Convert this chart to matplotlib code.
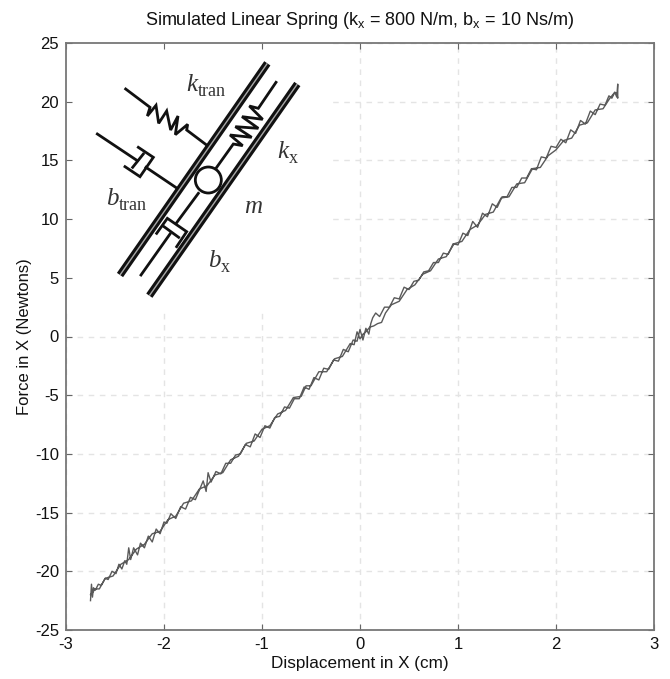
import matplotlib
matplotlib.use("Agg")
import matplotlib.pyplot as plt
from matplotlib.patches import Circle

plt.rcParams['font.family'] = ['Liberation Sans', 'DejaVu Sans']
plt.rcParams['mathtext.fontset'] = 'custom'
plt.rcParams['mathtext.rm'] = 'Liberation Sans'
plt.rcParams['axes.unicode_minus'] = False

# trace, going up
up_x = [-2.75, -2.74, -2.73, -2.72, -2.70, -2.67, -2.64, -2.60, -2.57, -2.53,
        -2.49, -2.46, -2.43, -2.40, -2.38, -2.36, -2.34, -2.31, -2.27, -2.24,
        -2.20, -2.16, -2.12, -2.08, -2.04, -2.00, -1.97, -1.93, -1.88, -1.83,
        -1.78, -1.73, -1.68, -1.63, -1.60, -1.57, -1.55, -1.52, -1.47, -1.42,
        -1.37, -1.32, -1.27, -1.22, -1.17, -1.12, -1.07, -1.02, -0.97, -0.92,
        -0.87, -0.82, -0.77, -0.72, -0.67, -0.62, -0.57, -0.52, -0.47, -0.42,
        -0.37, -0.32, -0.27, -0.22, -0.17, -0.12, -0.07, -0.03, 0.00, 0.03,
        0.06, 0.09, 0.11, 0.13, 0.16, 0.20, 0.25, 0.30, 0.35, 0.40,
        0.45, 0.50, 0.55, 0.60, 0.65, 0.70, 0.75, 0.80, 0.85, 0.90,
        0.95, 1.00, 1.05, 1.10, 1.15, 1.20, 1.25, 1.30, 1.35, 1.40,
        1.45, 1.50, 1.55, 1.60, 1.65, 1.70, 1.75, 1.80, 1.85, 1.90,
        1.95, 2.00, 2.05, 2.10, 2.15, 2.20, 2.25, 2.30, 2.35, 2.40,
        2.45, 2.50, 2.54, 2.57, 2.60, 2.62, 2.63, 2.63, 2.62, 2.60]
up_y = [-22.5, -21.1, -22.2, -21.4, -21.6, -21.1, -21.2, -20.6, -20.7, -20.0,
        -20.2, -19.4, -19.8, -19.1, -19.4, -18.0, -19.0, -18.0, -18.6, -17.6,
        -18.0, -17.0, -17.5, -16.4, -16.8, -15.8, -15.9, -15.1, -15.5, -14.5,
        -14.7, -13.7, -13.9, -12.9, -12.3, -13.2, -11.6, -12.4, -11.5, -11.7,
        -10.8, -10.8, -10.1, -10.0, -9.2, -9.4, -8.3, -8.6, -7.6, -7.8,
        -6.9, -6.8, -6.0, -6.1, -5.3, -5.3, -4.3, -4.5, -3.5, -3.7,
        -2.7, -2.8, -2.0, -2.1, -1.1, -1.3, -0.3, -0.4, 0.6, -0.3,
        0.7, 0.2, 1.1, 1.6, 2.0, 1.7, 2.5, 2.5, 3.3, 3.2,
        4.2, 4.0, 4.7, 4.8, 5.5, 5.6, 6.3, 6.3, 7.1, 7.0,
        7.9, 7.8, 8.8, 8.6, 9.8, 9.3, 10.5, 10.2, 11.3, 11.0,
        11.9, 11.9, 12.7, 12.7, 13.5, 13.5, 14.3, 14.2, 15.3, 15.2,
        16.2, 16.1, 16.8, 16.5, 17.6, 17.3, 18.4, 18.1, 19.2, 18.9,
        19.8, 19.7, 20.5, 20.3, 20.8, 20.7, 20.3, 21.5, 20.4, 20.8]

# and coming back down
down_x = [2.55, 2.48, 2.40, 2.32, 2.24, 2.16, 2.08, 2.00, 1.92, 1.84,
          1.76, 1.68, 1.60, 1.52, 1.44, 1.36, 1.28, 1.20, 1.12, 1.04,
          0.96, 0.88, 0.80, 0.72, 0.64, 0.56, 0.48, 0.40, 0.32, 0.26,
          0.22, 0.18, 0.14, 0.10, 0.06, 0.03, 0.00, -0.03, -0.06, -0.10,
          -0.18, -0.26, -0.34, -0.42, -0.50, -0.55, -0.60, -0.68, -0.76, -0.84,
          -0.92, -1.00, -1.08, -1.16, -1.24, -1.32, -1.40, -1.48, -1.56, -1.64,
          -1.72, -1.80, -1.88, -1.96, -2.04, -2.12, -2.20, -2.28, -2.36, -2.44,
          -2.52, -2.60, -2.66, -2.70, -2.73, -2.75]
down_y = [20.3, 19.4, 19.3, 18.2, 18.0, 16.9, 16.7, 15.9, 15.4, 14.4,
          14.3, 13.1, 13.0, 11.9, 11.8, 10.6, 10.4, 9.5, 9.1, 8.1,
          7.9, 6.8, 6.6, 5.6, 5.3, 4.4, 4.0, 3.0, 2.7, 2.0,
          1.2, 1.1, 0.9, 0.8, 0.4, 0.2, -0.2, 0.4, -0.7, -0.6,
          -1.7, -1.9, -3.0, -3.0, -4.2, -4.2, -5.1, -5.2, -6.3, -6.6,
          -7.6, -7.9, -8.9, -9.1, -10.2, -10.5, -11.6, -11.8, -12.7, -13.0,
          -14.0, -14.2, -15.3, -15.6, -16.6, -16.8, -17.7, -18.1, -19.0, -19.4,
          -20.4, -20.6, -21.5, -21.5, -21.8, -22.0]

x_ticks = [-3, -2, -1, 0, 1, 2, 3]
y_ticks = [-25, -20, -15, -10, -5, 0, 5, 10, 15, 20, 25]

# schematic outlines
walls = [[(180, 735), (622, 100)], [(268, 797), (712, 162)]]
thin_lines = [
    [(197, 177), (270, 232), (262, 258), (288, 226), (296, 280), (320, 243),
     (332, 300), (354, 258), (346, 314), (383, 283), (380, 300), (437, 343)],
    [(470, 412), (520, 342), (548, 347), (510, 315), (575, 322), (526, 290),
     (595, 295), (546, 260), (608, 268), (568, 228), (595, 235), (648, 157)],
    [(112, 312), (232, 392)],
    [(218, 412), (250, 372)],
    [(235, 352), (280, 382), (240, 440), (195, 410)],
    [(258, 412), (347, 472)],
    [(415, 490), (350, 578)],
    [(290, 610), (322, 565), (380, 605), (350, 650)],
    [(243, 735), (330, 612)],
    [(312, 590), (356, 622)],
]
mass = (445, 450, 39)
labels = [("k", "tran", 378, 165), ("k", "x", 653, 366), ("b", "tran", 138, 507),
          ("b", "x", 443, 692), ("m", "", 552, 530)]


def draw_plot(fig):
    # grid and white box behind the schematic live on the bottom axes
    ax = fig.add_axes([66 / 670, 1 - 630 / 679, 588 / 670, 587 / 679])
    ax.set_xlim(-3, 3)
    ax.set_ylim(-25, 25)
    ax.set_xticks(x_ticks)
    ax.set_yticks(y_ticks)
    ax.tick_params(length=0, labelbottom=False, labelleft=False)
    ax.grid(True, color="#e4e4e4", linestyle=(0, (4, 4)), linewidth=1.0)
    ax.fill_between([-3, -0.31], 2.1, 25, color="white", zorder=2)
    ax.plot(up_x + down_x, up_y + down_y, color="#5a5a5a", linewidth=1.0, zorder=3)
    for s in ax.spines.values():
        s.set_visible(False)

    top = fig.add_axes(ax.get_position(), facecolor="none")
    top.set_xlim(-3, 3)
    top.set_ylim(-25, 25)
    top.set_xticks(x_ticks)
    top.set_yticks(y_ticks)
    top.tick_params(direction="in", top=True, right=True, length=4, width=0.8,
                    color="#666666", labelsize=12, labelcolor="#111111", pad=5)
    for s in top.spines.values():
        s.set_color("#777777")
        s.set_linewidth(1.3)
    top.set_xlabel("Displacement in X (cm)", fontsize=12.3, color="#111111", labelpad=3)
    top.set_ylabel("Force in X (Newtons)", fontsize=12, color="#111111", labelpad=2)
    top.set_title(r"Simulated Linear Spring (k$_{\mathrm{x}}$ = 800 N/m, b$_{\mathrm{x}}$ = 10 Ns/m)",
                  fontsize=13, color="#111111", pad=13)


def draw_schematic(fig):
    # this axes is just the 280x290 crop of the figure, units are 1/3 pixel
    sk = fig.add_axes([60 / 670, 1 - 320 / 679, 280 / 670, 290 / 679], facecolor="none")
    sk.set_xlim(0, 840)
    sk.set_ylim(870, 0)
    sk.axis("off")
    for w in walls:
        xs, ys = zip(*w)
        sk.plot(xs, ys, color="#111111", linewidth=5.4, solid_capstyle="butt")
        sk.plot(xs, ys, color="#a8a8a8", linewidth=1.0, solid_capstyle="butt")
    for seg in thin_lines:
        xs, ys = zip(*seg)
        sk.plot(xs, ys, color="#111111", linewidth=2.0, solid_joinstyle="miter")
    sk.add_patch(Circle(mass[:2], mass[2], facecolor="white", edgecolor="#111111",
                        linewidth=2.0, zorder=5))
    for name, sub, x, y in labels:
        t = sk.text(x, y, name, family="Liberation Serif", style="italic", fontsize=18,
                    color="#333333", va="center", ha="left")
        if sub:
            fig.canvas.draw()
            box = t.get_window_extent().transformed(sk.transData.inverted())
            sk.text(box.x1 + 1, y + 20, sub, family="Liberation Serif", fontsize=13,
                    color="#333333", va="center", ha="left")


fig = plt.figure(figsize=(6.7, 6.79), dpi=100, facecolor="white")
draw_plot(fig)
draw_schematic(fig)
fig.savefig("out.png", dpi=100)
